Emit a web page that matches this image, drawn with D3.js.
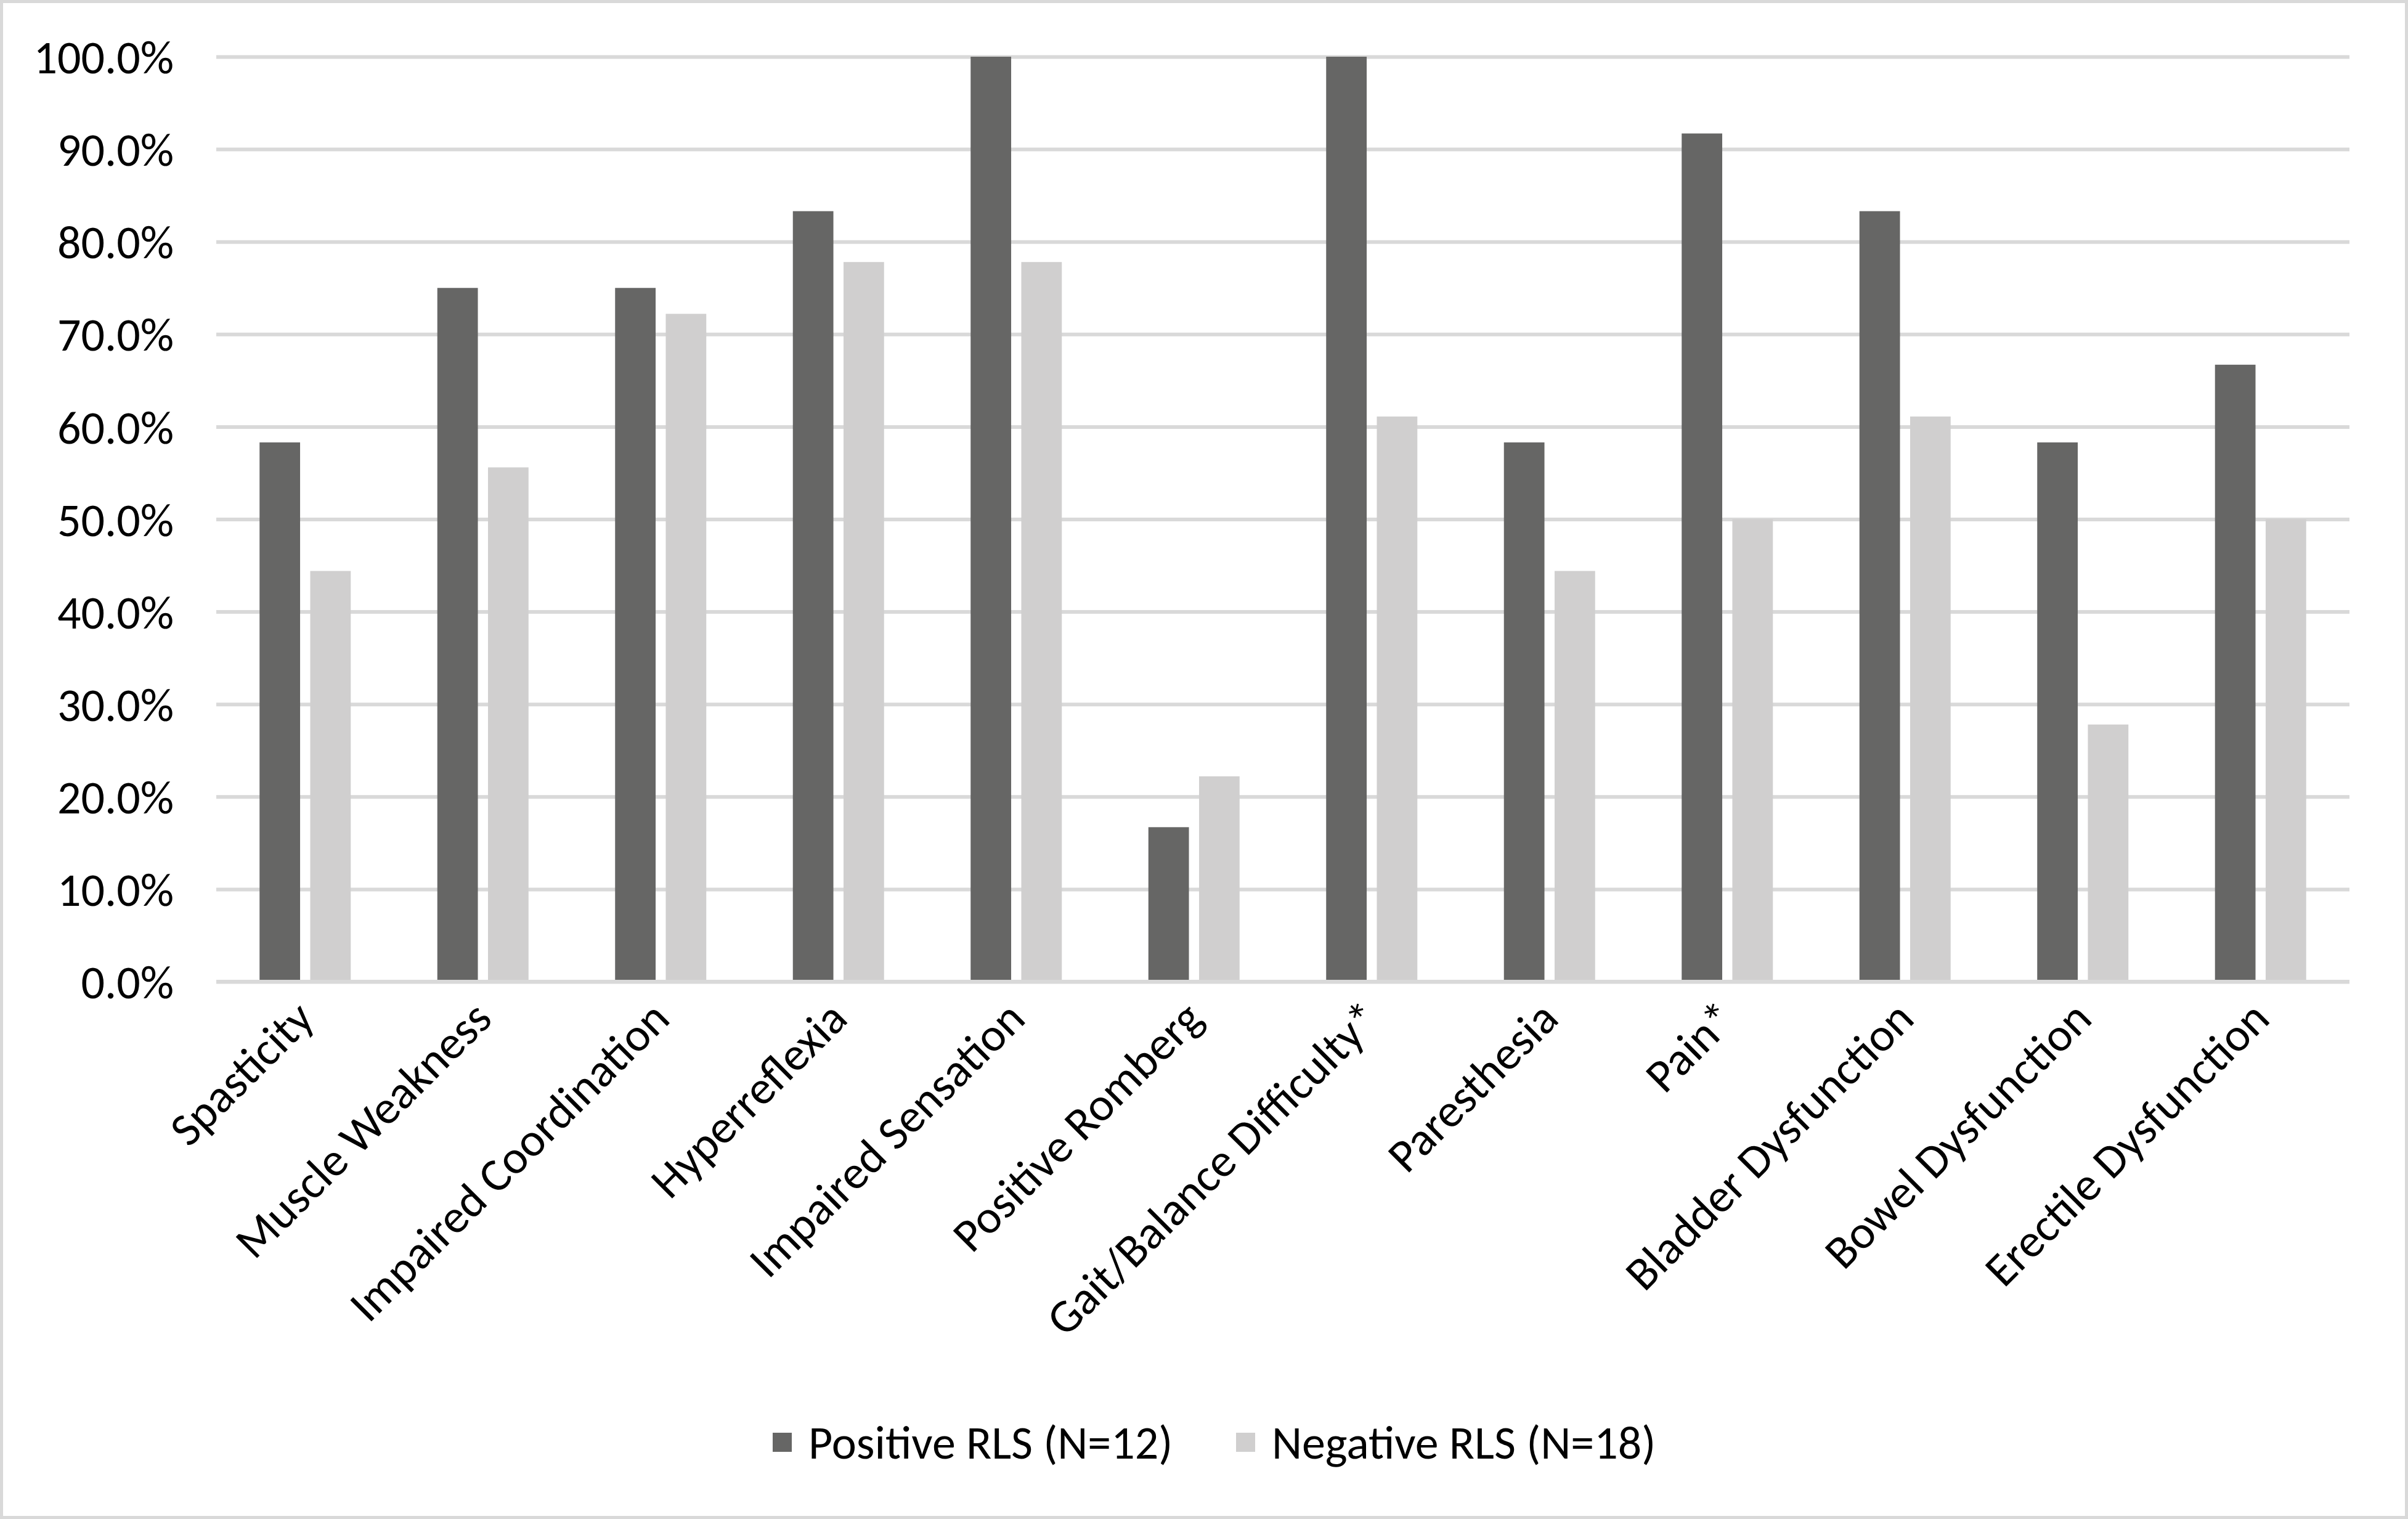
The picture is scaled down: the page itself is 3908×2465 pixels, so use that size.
<!DOCTYPE html>
<html>
<head>
<meta charset="utf-8">
<script src="https://cdn.jsdelivr.net/npm/d3@7"></script>
<style>
    html, body { margin: 0; padding: 0; background: #ffffff; }
    svg { display: block; }
    text { font-family: Carlito, Calibri, Lato, sans-serif; fill: #000000; }
</style>
</head>
<body>
<div id="containerGrafico"></div>
<script>

const categorias = ["Spasticity", "Muscle Weakness", "Impaired Coordination", "Hyperreflexia",
    "Impaired Sensation", "Positive Romberg", "Gait/Balance Difficulty*", "Paresthesia",
    "Pain*", "Bladder Dysfunction", "Bowel Dysfunction", "Erectile Dysfunction"];

const series = ["Positive RLS (N=12)", "Negative RLS (N=18)"];

const valoresPositivo = [58.3, 75.0, 75.0, 83.3, 100.0, 16.7, 100.0, 58.3, 91.7, 83.3, 58.3, 66.7];
const valoresNegativo = [44.4, 55.6, 72.2, 77.8, 77.8, 22.2, 61.1, 44.4, 50.0, 61.1, 27.8, 50.0];

const ticksY = [0, 10, 20, 30, 40, 50, 60, 70, 80, 90, 100];

const cores = ["#666665", "#d0cfcf"];



const largura = 3908;
const altura = 2465;
const margin = {top: 92, right: 95, bottom: 872, left: 351};
const tamanhoFonte = "76px";

const svg = d3.select("#containerGrafico").append("svg")
    .attr("width", largura)
    .attr("height", altura);

// moldura do grafico
svg.append("rect")
    .attr("x", 2.5).attr("y", 2.5)
    .attr("width", largura - 5).attr("height", altura - 5)
    .attr("fill", "#ffffff")
    .attr("stroke", "#d9d9d9")
    .attr("stroke-width", 5);

const x = d3.scaleBand()
    .domain(categorias)
    .range([margin.left, largura - margin.right]);

const xSerie = d3.scaleBand()
    .domain(series)
    .range([-74, 74])
    .paddingInner(0.2);

const y = d3.scaleLinear()
    .domain([0, 100])
    .range([altura - margin.bottom, margin.top]);

// linhas de grade + rotulos do eixo Y
const eixoY = d3.axisLeft(y)
    .tickValues(ticksY)
    .tickSize(-(largura - margin.left - margin.right))
    .tickPadding(69)
    .tickFormat((d) => d.toFixed(1) + "%");

svg.append("g")
    .attr("transform", `translate(${margin.left},0)`)
    .call(eixoY)
    .call((g) => g.select(".domain").remove())
    .call((g) => g.selectAll(".tick line").attr("stroke", "#d9d9d9").attr("stroke-width", 6))
    .call((g) => g.selectAll(".tick text")
        .style("font-size", tamanhoFonte)
        .attr("dy", "0.35em"));

// barras
const dados = categorias.map((c, i) => ({categoria: c, valores: [valoresPositivo[i], valoresNegativo[i]]}));

const grupos = svg.append("g").selectAll("g")
    .data(dados)
    .enter().append("g")
        .attr("transform", (d) => `translate(${x(d.categoria) + x.bandwidth() / 2},0)`);

grupos.selectAll("rect")
    .data((d) => d.valores.map((v, j) => ({serie: series[j], valor: v, indice: j})))
    .enter().append("rect")
        .attr("x", (d) => xSerie(d.serie))
        .attr("y", (d) => y(d.valor))
        .attr("width", xSerie.bandwidth())
        .attr("height", (d) => y(0) - y(d.valor))
        .attr("fill", (d) => cores[d.indice]);

// eixo X (linha do zero por cima das barras)
svg.append("line")
    .attr("x1", margin.left).attr("x2", largura - margin.right)
    .attr("y1", y(0)).attr("y2", y(0))
    .attr("stroke", "#d9d9d9")
    .attr("stroke-width", 6);

// rotulos das categorias, girados 45 graus
svg.append("g").selectAll("text")
    .data(categorias)
    .enter().append("text")
        .attr("text-anchor", "end")
        .style("font-size", tamanhoFonte)
        .attr("transform", (d) => `translate(${x(d) + x.bandwidth() / 2 + 18},${y(0) + 64}) rotate(-45)`)
        .text((d) => d);

// legenda
const legendaY = 2340;
const posicoesLegenda = [1254, 2006];

const legenda = svg.append("g").selectAll("g")
    .data(series)
    .enter().append("g")
        .attr("transform", (d, i) => `translate(${posicoesLegenda[i]},${legendaY})`);

legenda.append("rect")
    .attr("x", 0).attr("y", -15)
    .attr("width", 31).attr("height", 31)
    .attr("fill", (d, i) => cores[i]);

legenda.append("text")
    .attr("x", 58)
    .attr("dy", "0.35em")
    .style("font-size", tamanhoFonte)
    .text((d) => d);

</script>
</body>
</html>
